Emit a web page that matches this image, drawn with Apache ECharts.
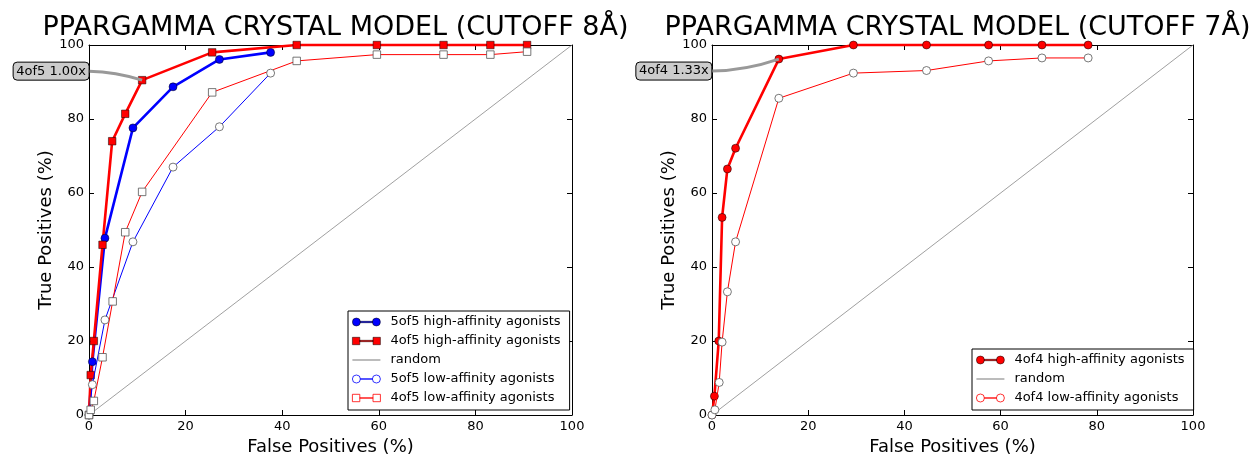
<!DOCTYPE html>
<html><head><meta charset="utf-8">
<script src="https://cdn.jsdelivr.net/npm/echarts@6.0.0/dist/echarts.min.js"></script>
<style>html,body{margin:0;padding:0;background:#fff}#c{width:1254px;height:456px}</style>
</head><body><div id="c"></div>
<script>
// ---- data ----
const titles = ['PPARGAMMA CRYSTAL MODEL (CUTOFF 8Å)', 'PPARGAMMA CRYSTAL MODEL (CUTOFF 7Å)'];
const xAxisName = 'False Positives (%)';
const yAxisName = 'True Positives (%)';
const axisMin = 0, axisMax = 100, axisStep = 20;
const randomLine = [[0, 0], [100, 100]];
// left panel (cutoff 8 Å)
const fiveOfFiveHigh = [[0,0],[0.7,14.4],[3.3,47.8],[9.1,77.6],[17.4,88.7],[27,96.1],[37.6,98]];
const fourOfFiveHigh = [[0,0],[0.35,10.8],[1.0,20],[2.8,46],[4.8,74],[7.5,81.4],[11,90.5],[25.5,98],[43,100],[59.6,100],[73.4,100],[83.1,100],[90.7,100]];
const fiveOfFiveLow = [[0,0],[0.7,8.2],[3.3,25.7],[9.1,46.8],[17.4,67],[27,77.9],[37.6,92.4]];
const fourOfFiveLow = [[0,0],[0.35,1.4],[1.0,3.8],[2.8,15.6],[4.9,30.7],[7.5,49.4],[11,60.3],[25.5,87.2],[43,95.7],[59.6,97.4],[73.4,97.4],[83.1,97.4],[90.7,98.2]];
// right panel (cutoff 7 Å)
const fourOfFourHigh = [[0,0],[0.5,5.1],[1.4,20],[2.1,53.4],[3.2,66.5],[4.9,72.1],[13.9,96.2],[29.4,100],[44.6,100],[57.5,100],[68.6,100],[78.2,100]];
const fourOfFourLow = [[0,0],[0.6,1.4],[1.5,8.8],[2.1,19.7],[3.2,33.3],[4.9,46.8],[13.9,85.6],[29.4,92.4],[44.6,93.1],[57.5,95.7],[68.6,96.5],[78.2,96.5]];
// annotations: [label, point]
const leftNote = ['4of5 1.00x', [11, 90.5]];
const rightNote = ['4of4 1.33x', [13.9, 96.2]];

// ---- chart ----
const FONT = 'DejaVu Sans';
const RED = '#ff0000', BLUE = '#0000ff';
const chart = echarts.init(document.getElementById('c'), null, {renderer: 'canvas'});

const grids = [
  {left: 89, top: 45, width: 483, height: 370, outerBoundsMode: 'none', containLabel: false},
  {left: 712, top: 45, width: 481, height: 370, outerBoundsMode: 'none', containLabel: false}
];

function xAx(gi, pos, withLabels) {
  return {
    type: 'value', gridIndex: gi, position: pos, min: axisMin, max: axisMax, interval: axisStep,
    name: withLabels ? xAxisName : '', nameLocation: 'middle', nameGap: 22,
    nameTextStyle: {fontFamily: FONT, fontSize: 18, color: '#000'},
    axisLine: {show: true, onZero: false, lineStyle: {color: '#000', width: 1}},
    axisTick: {show: true, inside: true, length: 5, lineStyle: {color: '#000'}},
    axisLabel: {show: withLabels, fontFamily: FONT, fontSize: 13, color: '#000', margin: 5},
    splitLine: {show: false}
  };
}
function yAx(gi, pos, withLabels) {
  return {
    type: 'value', gridIndex: gi, position: pos, min: axisMin, max: axisMax, interval: axisStep,
    name: withLabels ? yAxisName : '', nameLocation: 'middle', nameGap: 34, nameRotate: 90,
    nameTextStyle: {fontFamily: FONT, fontSize: 18, color: '#000'},
    axisLine: {show: true, onZero: false, lineStyle: {color: '#000', width: 1}},
    axisTick: {show: true, inside: true, length: 5, lineStyle: {color: '#000'}},
    axisLabel: {show: withLabels, fontFamily: FONT, fontSize: 13, color: '#000', margin: 5},
    splitLine: {show: false}
  };
}

function hiSeries(name, data, color, symbol, ai) {
  return {
    type: 'line', name, data, xAxisIndex: ai, yAxisIndex: ai,
    symbol, symbolSize: symbol === 'rect' ? 7.5 : 8, showAllSymbol: true, clip: false,
    lineStyle: {color, width: 2.6},
    itemStyle: {color, borderColor: '#000', borderWidth: 0.5},
    emphasis: {disabled: true}, z: 3
  };
}
function loSeries(name, data, color, symbol, ai) {
  return {
    type: 'line', name, data, xAxisIndex: ai, yAxisIndex: ai,
    symbol, symbolSize: symbol === 'rect' ? 7.5 : 8, showAllSymbol: true, clip: false,
    lineStyle: {color, width: 1},
    itemStyle: {color: '#fff', borderColor: '#555', borderWidth: 0.8},
    emphasis: {disabled: true}, z: 4
  };
}
function randSeries(ai) {
  return {
    type: 'line', name: 'random', data: randomLine, xAxisIndex: ai, yAxisIndex: ai,
    symbol: 'none', lineStyle: {color: '#888', width: 0.8},
    itemStyle: {color: '#888'}, emphasis: {disabled: true}, z: 2
  };
}

const circIcon = 'path://M0,4a4,4 0 1,0 8,0a4,4 0 1,0 -8,0Z M8,3.3L20,3.3L20,4.7L8,4.7Z M20,4a4,4 0 1,0 8,0a4,4 0 1,0 -8,0Z';
const circIconThin = 'path://M0,4a4,4 0 1,0 8,0a4,4 0 1,0 -8,0Z M8,3.8L20,3.8L20,4.2L8,4.2Z M20,4a4,4 0 1,0 8,0a4,4 0 1,0 -8,0Z';
const sqIcon = 'path://M0,0.3L7.4,0.3L7.4,7.7L0,7.7Z M7.4,3.3L20.6,3.3L20.6,4.7L7.4,4.7Z M20.6,0.3L28,0.3L28,7.7L20.6,7.7Z';
const sqIconThin = 'path://M0,0.3L7.4,0.3L7.4,7.7L0,7.7Z M7.4,3.8L20.6,3.8L20.6,4.2L7.4,4.2Z M20.6,0.3L28,0.3L28,7.7L20.6,7.7Z';
const lineIcon = 'path://M4,3.6L24,3.6L24,4.4L4,4.4Z';

const legendText = {fontFamily: FONT, fontSize: 13, color: '#000', lineHeight: 16, padding: [0, 0, 0, 5]};
function legendBase(left, top) {
  return {
    orient: 'vertical', left, top, itemWidth: 28, itemHeight: 8, itemGap: 3,
    backgroundColor: '#fff', borderColor: '#000', borderWidth: 1, borderRadius: 0,
    padding: [3, 9, 4, 4], textStyle: legendText, selectedMode: false
  };
}

const option = {
  animation: false,
  backgroundColor: '#fff',
  title: [
    {text: titles[0], left: grids[0].left + grids[0].width / 2, top: 9, textAlign: 'center',
     textStyle: {fontFamily: FONT, fontSize: 27, fontWeight: 'normal', color: '#000'}},
    {text: titles[1], left: grids[1].left + grids[1].width / 2, top: 9, textAlign: 'center',
     textStyle: {fontFamily: FONT, fontSize: 27, fontWeight: 'normal', color: '#000'}}
  ],
  grid: grids,
  xAxis: [xAx(0, 'bottom', true), xAx(0, 'top', false), xAx(1, 'bottom', true), xAx(1, 'top', false)],
  yAxis: [yAx(0, 'left', true), yAx(0, 'right', false), yAx(1, 'left', true), yAx(1, 'right', false)],
  legend: [
    Object.assign(legendBase(348, 311), {data: [
      {name: '5of5 high-affinity agonists', icon: circIcon, itemStyle: {color: BLUE, borderColor: '#000', borderWidth: 0.5}},
      {name: '4of5 high-affinity agonists', icon: sqIcon, itemStyle: {color: RED, borderColor: '#000', borderWidth: 0.5}},
      {name: 'random', icon: lineIcon, itemStyle: {color: '#888', borderWidth: 0}},
      {name: '5of5 low-affinity agonists', icon: circIconThin, itemStyle: {color: '#fff', borderColor: BLUE, borderWidth: 0.8}},
      {name: '4of5 low-affinity agonists', icon: sqIconThin, itemStyle: {color: '#fff', borderColor: RED, borderWidth: 0.8}}
    ]}),
    Object.assign(legendBase(972, 349), {data: [
      {name: '4of4 high-affinity agonists', icon: circIcon, itemStyle: {color: RED, borderColor: '#000', borderWidth: 0.5}},
      {name: 'random', icon: lineIcon, itemStyle: {color: '#888', borderWidth: 0}},
      {name: '4of4 low-affinity agonists', icon: circIconThin, itemStyle: {color: '#fff', borderColor: RED, borderWidth: 0.8}}
    ]})
  ],
  series: [
    hiSeries('5of5 high-affinity agonists', fiveOfFiveHigh, BLUE, 'circle', 0),
    hiSeries('4of5 high-affinity agonists', fourOfFiveHigh, RED, 'rect', 0),
    randSeries(0),
    loSeries('5of5 low-affinity agonists', fiveOfFiveLow, BLUE, 'circle', 0),
    loSeries('4of5 low-affinity agonists', fourOfFiveLow, RED, 'rect', 0),
    hiSeries('4of4 high-affinity agonists', fourOfFourHigh, RED, 'circle', 2),
    randSeries(2),
    loSeries('4of4 low-affinity agonists', fourOfFourLow, RED, 'circle', 2)
  ]
};
chart.setOption(option);

// annotations positioned from the annotated data points
function note(label, pt, ai, dx, dy) {
  const p = chart.convertToPixel({xAxisIndex: ai, yAxisIndex: ai}, pt);
  const bw = 76, bh = 18;
  const bx = p[0] + dx, by = p[1] + dy - bh / 2;
  const sx = bx + bw, sy = by + bh / 2;
  return [
    {type: 'bezierCurve', z: 50, silent: true,
     shape: {x1: sx, y1: sy, x2: p[0], y2: p[1], cpx1: (sx + p[0]) / 2, cpy1: sy + (p[1] - sy) * 0.05},
     style: {stroke: '#999', lineWidth: 3, fill: null}},
    {type: 'rect', z: 60, silent: true,
     shape: {x: bx, y: by, width: bw, height: bh, r: 4},
     style: {fill: '#cccccc', stroke: '#000', lineWidth: 1}},
    {type: 'text', z: 61, silent: true,
     style: {x: bx + bw / 2, y: by + bh / 2, text: label, align: 'center', verticalAlign: 'middle',
             font: '13px "DejaVu Sans"', fill: '#000'}}
  ];
}
chart.setOption({graphic: [].concat(
  note(leftNote[0], leftNote[1], 0, -129, -9),
  note(rightNote[0], rightNote[1], 2, -143, 12)
)});
</script>
</body></html>
